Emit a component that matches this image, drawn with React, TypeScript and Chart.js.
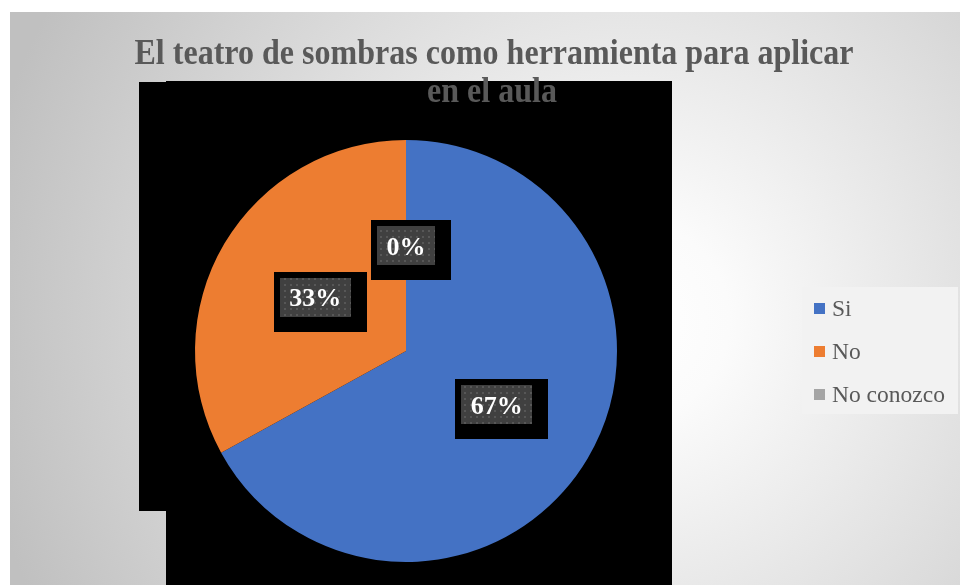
import { useEffect, useRef } from 'react';
import { Chart, registerables } from 'chart.js';

Chart.register(...registerables);

const categories = ['Si', 'No', 'No conozco'];
const percentages = [67, 33, 0];
const sliceColors = ['#4472C4', '#ED7D31', '#A5A5A5'];
const titleLines = ['El teatro de sombras como herramienta para aplicar', 'en el aula'];

const SERIF = '"Liberation Serif", "Times New Roman", serif';

const backgroundPlugin = {
  id: 'bgPlugin',
  beforeDraw(chart: any) {
    const { ctx, width, height } = chart;
    ctx.save();
    ctx.fillStyle = '#ffffff';
    ctx.fillRect(0, 0, width, height);
    const g = ctx.createRadialGradient(630, 320, 0, 630, 320, 660);
    g.addColorStop(0, '#ffffff');
    g.addColorStop(0.15, '#fbfbfb');
    g.addColorStop(1, '#c0c0c0');
    ctx.fillStyle = g;
    ctx.fillRect(10, 12, width - 10, height - 12);
    ctx.fillStyle = '#000000';
    ctx.fillRect(139, 82, 27, 429);
    ctx.fillRect(166, 81, 506, 504);
    ctx.restore();
  },
};

const labelPlugin = {
  id: 'labelPlugin',
  afterDatasetsDraw(chart: any) {
    const { ctx } = chart;
    const meta = chart.getDatasetMeta(0);
    const pc = document.createElement('canvas');
    pc.width = 6;
    pc.height = 6;
    const pctx = pc.getContext('2d')!;
    pctx.fillStyle = '#404040';
    pctx.fillRect(0, 0, 6, 6);
    pctx.fillStyle = '#575757';
    pctx.fillRect(2, 2, 2, 2);
    const pattern = ctx.createPattern(pc, 'repeat');
    ctx.save();
    ctx.font = `bold 26px ${SERIF}`;
    meta.data.forEach((arc: any, i: number) => {
      const p = arc.getCenterPoint();
      const text = `${chart.data.datasets[0].data[i]}%`;
      const tw = ctx.measureText(text).width;
      const w = tw + 19;
      const h = 39;
      const x = Math.round(p.x - w / 2);
      const y = Math.round(p.y - h / 2);
      ctx.fillStyle = '#000000';
      ctx.fillRect(x - 6, y - 6, w + 22, h + 21);
      ctx.fillStyle = pattern;
      ctx.fillRect(x, y, w, h);
      ctx.fillStyle = '#ffffff';
      ctx.textAlign = 'center';
      ctx.textBaseline = 'alphabetic';
      ctx.fillText(text, p.x, p.y + 9);
    });
    ctx.restore();
  },
};

function drawFitted(ctx: CanvasRenderingContext2D, text: string, cx: number, baseline: number, targetW: number) {
  const w = ctx.measureText(text).width;
  const s = targetW / w;
  ctx.save();
  ctx.translate(cx, baseline);
  ctx.scale(s, 1);
  ctx.textAlign = 'center';
  ctx.fillText(text, 0, 0);
  ctx.restore();
}

const overlayPlugin = {
  id: 'overlayPlugin',
  afterDraw(chart: any) {
    const { ctx } = chart;
    ctx.save();
    // title
    ctx.font = `bold 35px ${SERIF}`;
    ctx.fillStyle = '#595959';
    ctx.textBaseline = 'alphabetic';
    const w1 = ctx.measureText(titleLines[0]).width;
    const scale = 719 / w1;
    drawFitted(ctx, titleLines[0], 494, 64, 719);
    drawFitted(ctx, titleLines[1], 492, 102, ctx.measureText(titleLines[1]).width * scale);
    // legend
    ctx.fillStyle = '#f2f2f2';
    ctx.fillRect(802, 287, 156, 127);
    const labels = chart.data.labels as string[];
    const colors = chart.data.datasets[0].backgroundColor as string[];
    ctx.font = `23.5px ${SERIF}`;
    ctx.textAlign = 'left';
    labels.forEach((lab, i) => {
      const cy = 308.5 + i * 43;
      ctx.fillStyle = colors[i];
      ctx.fillRect(814, Math.round(cy - 5.5), 11, 11);
      ctx.fillStyle = '#595959';
      ctx.fillText(lab, 832, cy + 7.5);
    });
    ctx.restore();
  },
};

export default function App() {
  const ref = useRef<HTMLCanvasElement | null>(null);
  useEffect(() => {
    if (!ref.current) return;
    const chart = new Chart(ref.current, {
      type: 'pie',
      data: {
        labels: categories,
        datasets: [
          {
            data: percentages,
            backgroundColor: sliceColors,
            borderWidth: 0,
            hoverOffset: 0,
            offset: 0,
          },
        ],
      },
      options: {
        responsive: false,
        animation: false,
        devicePixelRatio: 1,
        layout: { padding: { top: 140, bottom: 23, left: 195, right: 343 } },
        plugins: {
          legend: { display: false },
          title: { display: false },
          tooltip: { enabled: false },
        },
      },
      plugins: [backgroundPlugin, labelPlugin, overlayPlugin],
    });
    return () => chart.destroy();
  }, []);
  return (
    <div style={{ position: 'fixed', left: 0, top: 0, width: 960, height: 585 }}>
      <canvas ref={ref} width={960} height={585} style={{ display: 'block' }} />
    </div>
  );
}
